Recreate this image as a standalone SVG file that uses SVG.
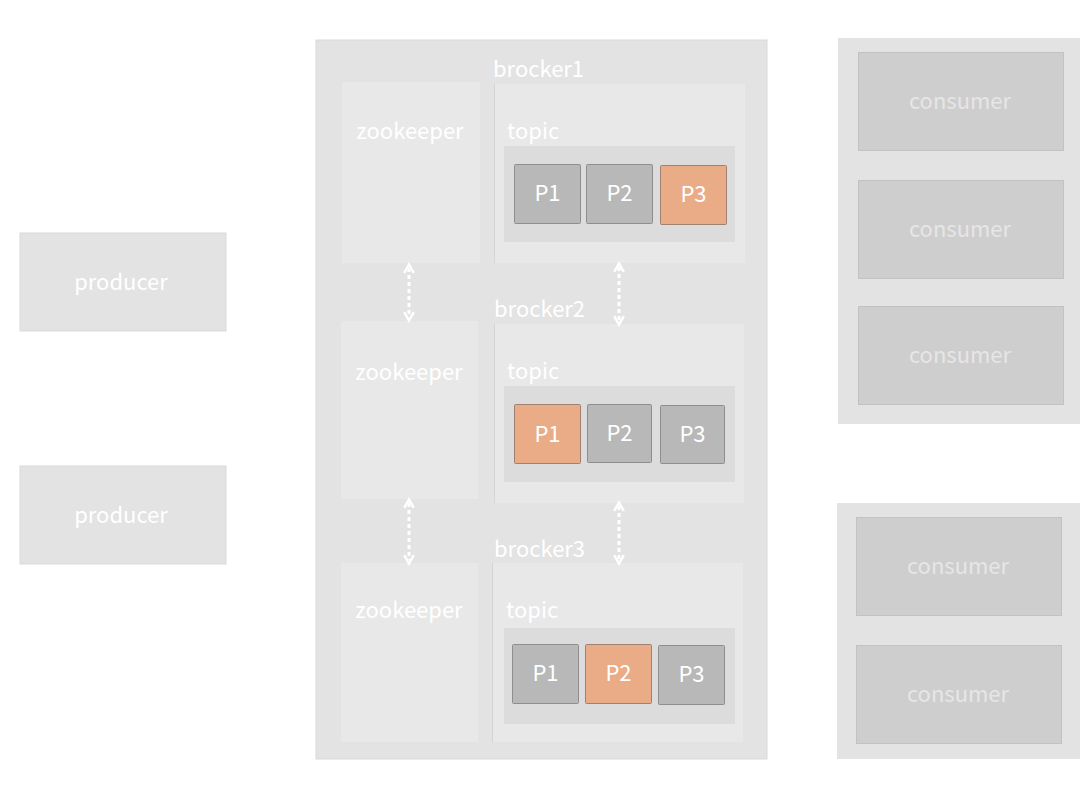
<svg xmlns="http://www.w3.org/2000/svg" width="1080" height="800" viewBox="0 0 1080 800">
<defs>
<style>
text{font-family:"Noto Sans CJK SC","Noto Sans","Liberation Sans",sans-serif;fill:#ffffff;font-size:22px}
.cont{fill:#e3e3e3;stroke:#d9d9d9;stroke-width:1}
.zk{fill:#e8e8e8}
.topic{fill:#e8e8e8}
.tl{stroke:#d4d4d4;stroke-width:1}
.inner{fill:#dcdcdc}
.p{fill:#b8b8b8;stroke:#8e8e8e;stroke-width:1}
.po{fill:#eaab87;stroke:#a08070;stroke-width:1}
.cons{fill:#cecece;stroke:#c2c2c2;stroke-width:1}
.ct{fill:#e6e6e6}
.mid{text-anchor:middle}
.arr{stroke:#ffffff;stroke-width:3;stroke-dasharray:4 3;fill:none;marker-start:url(#ah);marker-end:url(#ah)}
</style>
<marker id="ah" viewBox="0 0 10 10" refX="5" refY="5" markerWidth="4" markerHeight="4" orient="auto-start-reverse" markerUnits="strokeWidth">
<path d="M1,1 L8,5 L1,9" fill="none" stroke="#ffffff" stroke-width="2"/>
</marker>
</defs>
<rect width="1080" height="800" fill="#ffffff"/>

<g id="producer1"><rect x="20" y="233" width="206" height="98" fill="#e3e3e3" stroke="#d9d9d9"/><text x="121" y="290" class="mid">producer</text></g>
<g id="producer2"><rect x="20" y="466" width="206" height="98" fill="#e3e3e3" stroke="#d9d9d9"/><text x="121" y="523" class="mid">producer</text></g>

<g id="cluster"><rect x="316" y="40" width="451" height="719" class="cont"/></g>

<g id="broker1">
<text x="493" y="77">brocker1</text>
<g id="zk1"><rect x="342" y="82" width="138" height="181" class="zk"/><text x="410" y="139" class="mid">zookeeper</text></g>
<g id="topic1"><rect x="494" y="84" width="251" height="179" class="topic"/><line x1="494.5" y1="84" x2="494.5" y2="263" class="tl"/>
<text x="507" y="139">topic</text>
<rect x="504" y="146" width="231" height="96" class="inner"/>
<g id="b1p1"><rect x="514.5" y="164.5" width="66" height="59" rx="1" class="p"/><text x="547.5" y="201" class="mid">P1</text></g>
<g id="b1p2"><rect x="586.5" y="164.5" width="66" height="59" rx="1" class="p"/><text x="619.5" y="201" class="mid">P2</text></g>
<g id="b1p3"><rect x="660.5" y="165.5" width="66" height="59" rx="1" class="po"/><text x="693.5" y="202" class="mid">P3</text></g>
</g>
</g>

<g id="broker2">
<text x="494" y="317">brocker2</text>
<g id="zk2"><rect x="341" y="321" width="137" height="178" class="zk"/><text x="409" y="380" class="mid">zookeeper</text></g>
<g id="topic2"><rect x="494" y="324" width="250" height="179" class="topic"/><line x1="494.5" y1="324" x2="494.5" y2="503" class="tl"/>
<text x="507" y="379">topic</text>
<rect x="504" y="386" width="231" height="96" class="inner"/>
<g id="b2p1"><rect x="514.5" y="404.5" width="66" height="59" rx="1" class="po"/><text x="547.5" y="442" class="mid">P1</text></g>
<g id="b2p2"><rect x="587.5" y="404.5" width="64" height="58" rx="1" class="p"/><text x="619.5" y="441" class="mid">P2</text></g>
<g id="b2p3"><rect x="660.5" y="405.5" width="64" height="58" rx="1" class="p"/><text x="692.5" y="442" class="mid">P3</text></g>
</g>
</g>

<g id="broker3">
<text x="494" y="557">brocker3</text>
<g id="zk3"><rect x="341" y="563" width="137" height="179" class="zk"/><text x="409" y="618" class="mid">zookeeper</text></g>
<g id="topic3"><rect x="492" y="563" width="251" height="179" class="topic"/><line x1="492.5" y1="563" x2="492.5" y2="742" class="tl"/>
<text x="506" y="618">topic</text>
<rect x="504" y="628" width="231" height="96" class="inner"/>
<g id="b3p1"><rect x="512.5" y="644.5" width="66" height="59" rx="1" class="p"/><text x="545.5" y="681" class="mid">P1</text></g>
<g id="b3p2"><rect x="585.5" y="644.5" width="66" height="59" rx="1" class="po"/><text x="618.5" y="681" class="mid">P2</text></g>
<g id="b3p3"><rect x="658.5" y="645.5" width="66" height="59" rx="1" class="p"/><text x="691.5" y="682" class="mid">P3</text></g>
</g>
</g>

<g id="consumers1">
<rect x="838" y="38" width="242" height="386" fill="#e3e3e3"/>
<g id="c1"><rect x="858.5" y="52.5" width="205" height="98" class="cons"/><text x="960" y="109" class="mid ct">consumer</text></g>
<g id="c2"><rect x="858.5" y="180.5" width="205" height="98" class="cons"/><text x="960" y="237" class="mid ct">consumer</text></g>
<g id="c3"><rect x="858.5" y="306.5" width="205" height="98" class="cons"/><text x="960" y="363" class="mid ct">consumer</text></g>
</g>
<g id="consumers2">
<rect x="837" y="503" width="243" height="256" fill="#e3e3e3"/>
<g id="c4"><rect x="856.5" y="517.5" width="205" height="98" class="cons"/><text x="958" y="574" class="mid ct">consumer</text></g>
<g id="c5"><rect x="856.5" y="645.5" width="205" height="98" class="cons"/><text x="958" y="702" class="mid ct">consumer</text></g>
</g>

<g id="connectors">
<line x1="409" y1="268" x2="409" y2="317" class="arr"/>
<line x1="619" y1="267" x2="619" y2="321" class="arr"/>
<line x1="409" y1="503" x2="409" y2="560" class="arr"/>
<line x1="619" y1="506" x2="619" y2="560" class="arr"/>
</g>
</svg>
